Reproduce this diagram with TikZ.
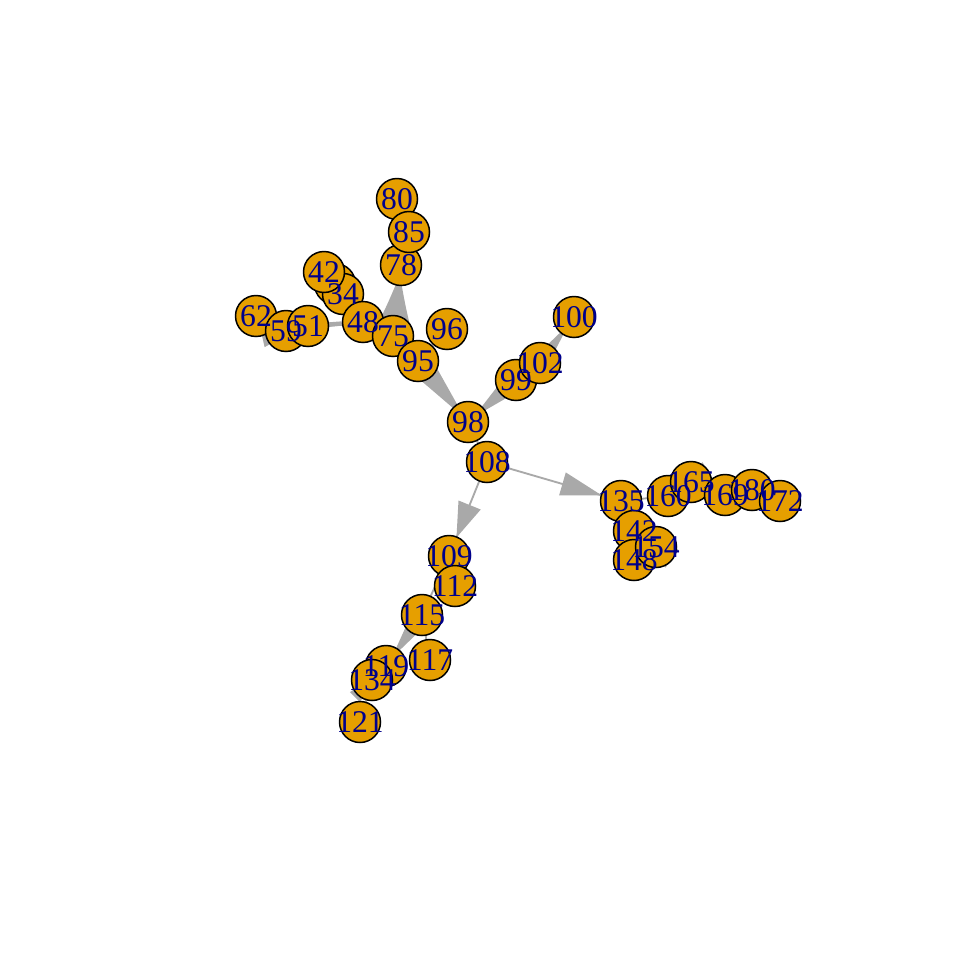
\documentclass[tikz,border=0pt]{standalone}
\usepackage{fontspec}
\setmainfont{Liberation Serif}
\usetikzlibrary{calc}
\pgfdeclarelayer{bg}
\pgfsetlayers{bg,main}
\definecolor{vfill}{HTML}{E69F00}
\definecolor{egray}{HTML}{A9A9A9}
\definecolor{lblue}{HTML}{00008B}
\tikzset{
  vtx/.style={circle, draw=black, fill=vfill, line width=0.85pt, minimum size=0.82cm, inner sep=0pt},
  lbl/.style={text=lblue, font=\fontsize{18}{18}\selectfont, inner sep=0pt},
  edgeline/.style={draw=egray, line width=1.05pt},
}
% #1 source, #2 target, #3 tip distance from target (px), #4 base distance (px), #5 half width (px)
\newcommand\wedgearrow[5]{%
  \path ($(#2.center)!{#3*0.02cm}!(#1.center)$) coordinate (wT)
        ($(#2.center)!{#4*0.02cm}!(#1.center)$) coordinate (wB);
  \path ($(wB)!0.5!(wT)$) coordinate (wM);
  \fill[egray] ($(wB)!{#5*0.02cm}!90:(wT)$)
     .. controls ($(wM)!{0.45*#5*0.02cm}!90:(wT)$) .. (wT)
     .. controls ($(wM)!{0.45*#5*0.02cm}!-90:(wT)$) .. ($(wB)!{#5*0.02cm}!-90:(wT)$) -- cycle;
}
\begin{document}
\begin{tikzpicture}[x=0.02cm,y=-0.02cm]
\useasboundingbox (0,0) rectangle (960,960);
% vertices (drawing order sets overlaps)
\node[vtx] (n80) at (397,199) {};
\node[vtx] (n78) at (401,265) {};
\node[vtx] (n85) at (409,232) {};
\node[vtx] (nh) at (335,284) {};
\node[vtx] (n34) at (343,294) {};
\node[vtx] (n42) at (324,272) {};
\node[vtx] (n62) at (256,316) {};
\node[vtx] (n59) at (286,331) {};
\node[vtx] (n51) at (308,326) {};
\node[vtx] (n48) at (363,322) {};
\node[vtx] (n75) at (393,336) {};
\node[vtx] (n95) at (418,361) {};
\node[vtx] (n96) at (447,329) {};
\node[vtx] (n98) at (468,422) {};
\node[vtx] (n99) at (516,380) {};
\node[vtx] (n102) at (540,363) {};
\node[vtx] (n100) at (574,317) {};
\node[vtx] (n108) at (487,462) {};
\node[vtx] (n135) at (621,501) {};
\node[vtx] (n142) at (634,531) {};
\node[vtx] (n148) at (634,560) {};
\node[vtx] (n154) at (656,547) {};
\node[vtx] (n160) at (668,496) {};
\node[vtx] (n165) at (691,482) {};
\node[vtx] (n169) at (725,495) {};
\node[vtx] (n180) at (752,490) {};
\node[vtx] (n172) at (780,501) {};
\node[vtx] (n109) at (449,556) {};
\node[vtx] (n112) at (455,586) {};
\node[vtx] (n115) at (422,615) {};
\node[vtx] (n117) at (430,660) {};
\node[vtx] (n119) at (386,666) {};
\node[vtx] (n134) at (372,680) {};
\node[vtx] (n121) at (360,722) {};
% labels on top of all vertices
\foreach \v in {80,78,85,34,42,62,59,51,48,75,95,96,98,99,102,100,108,135,142,148,154,160,165,169,180,172,109,112,115,117,119,134,121}
  \node[lbl] (l\v) at (n\v) {\v};
% edges behind
\begin{pgfonlayer}{bg}
\fill[white] (0,0) rectangle (960,960);
\foreach \a/\b in {108/98,108/135,108/109,98/95,98/99,99/102,102/100,95/75,95/96,75/78,78/85,85/80,75/48,48/59,59/62,135/160,160/165,165/169,169/180,180/172,135/142,142/148,142/154,109/112,109/115,115/117,115/119,119/134,134/121}
  \draw[edgeline] (n\a) -- (n\b);
\draw[edgeline] (n48) -- (n34) (n34) -- (nh) (nh) -- (n42);
\draw[egray, line width=2.5pt] (n48) -- (n51);
\wedgearrow{n108}{n135}{20}{61}{12}
\wedgearrow{n108}{n109}{20}{55}{12}
\wedgearrow{n95}{n98}{5}{78}{13}
\wedgearrow{n99}{n98}{8}{64}{11}
\wedgearrow{n102}{n100}{10}{57}{8}
\wedgearrow{n75}{n78}{10}{71}{20}
\wedgearrow{n115}{n119}{10}{62}{10}
\wedgearrow{n42}{n34}{10}{47}{11}
\wedgearrow{n85}{n78}{10}{47}{11}
\wedgearrow{n48}{n34}{10}{50}{12}
\wedgearrow{n172}{n180}{10}{47}{11}
\wedgearrow{n180}{n169}{10}{47}{11}
\wedgearrow{n165}{n160}{10}{47}{11}
\wedgearrow{n148}{n142}{10}{47}{11}
\wedgearrow{n154}{n142}{10}{47}{11}
\wedgearrow{n134}{n119}{10}{44}{7}
\wedgearrow{n59}{n51}{10}{47}{11}
\end{pgfonlayer}
\end{tikzpicture}
\end{document}
